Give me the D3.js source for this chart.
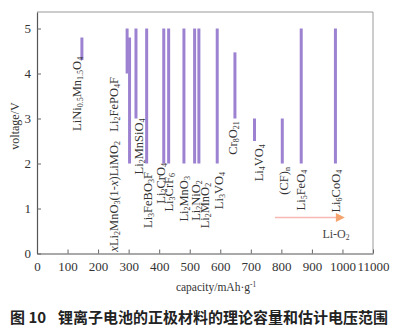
<!DOCTYPE html>
<html><head><meta charset="utf-8">
<script src="https://cdn.jsdelivr.net/npm/d3@7/dist/d3.min.js"></script>
<style>html,body{margin:0;padding:0;background:#fff;}svg{display:block;}</style>
</head><body>
<svg id="c" width="413" height="329"></svg>
<script>
// ---- data ----
const materials = ["LiNi0.5Mn1.5O4","Li2FePO4F","xLi2MnO3(1-x)LiMO2","Li2MnSiO4","Li3FeBO3F",
  "Li2CrO4","Li3CrF6","Li2MnO3","Li2NiO2","Li2MnO2","Li3VO4","Cr8O21","Li4VO4","(CF)n","Li5FeO4","Li6CoO4"];
const labelMarkup = ["LiNi_{0.5}Mn_{1.5}O_{4}","Li_{2}FePO_{4}F","*x*Li_{2}MnO_{3}(1-*x*)LiMO_{2}","Li_{2}MnSiO_{4}","Li_{3}FeBO_{3}F",
  "Li_{2}CrO_{4}","Li_{3}CrF_{6}","Li_{2}MnO_{3}","Li_{2}NiO_{2}","Li_{2}MnO_{2}","Li_{3}VO_{4}","Cr_{8}O_{21}","Li_{4}VO_{4}","(CF)_{n}","Li_{5}FeO_{4}","Li_{6}CoO_{4}"];
const capacity = [147, 295, 303, 324, 359, 415, 431, 481, 516, 530, 590, 648, 712, 803, 865, 977];
const vLow  = [4.3, 4.0, 2.0, 3.0, 2.0, 2.0, 2.0, 2.0, 2.0, 2.0, 2.0, 3.0, 2.5, 2.0, 2.0, 2.0];
const vHigh = [4.8, 5.0, 4.8, 5.0, 5.0, 5.0, 5.0, 5.0, 5.0, 5.0, 5.0, 4.47, 3.0, 3.0, 5.0, 5.0];
// label anchors (data units): capacity of label centre, voltage of label top
const labelCap = [131, 253, 253, 334, 363, 404, 432, 481, 519, 551, 594, 640, 725, 807, 864, 977];
const labelV   = [4.37, 3.92, 2.5, 3.0, 1.81, 2.01, 1.79, 1.72, 1.63, 1.57, 1.81, 2.94, 2.43, 1.92, 1.86, 1.86];
// Li-O2 range
const liO2 = {name: "Li-O_{2}", from: 779, to: 1008, v: 0.8, labelCap: 979, labelV: 0.34};
const xTicks = [0,100,200,300,400,500,600,700,800,900,1000,1100];
const xTickLabels = ["0","100","200","300","400","500","600","700","800","900","1000","11000"];
const yTicks = [0,1,2,3,4,5];
const xTitle = "capacity/mAh·g^{-1}";
const yTitle = "voltage/V";
const figNo = "图 10";
const caption = "锂离子电池的正极材料的理论容量和估计电压范围";

// ---- layout ----
const svg = d3.select("#c");
const L = 37, R = 373, T = 12, B = 253.5;
const x = d3.scaleLinear().domain([0, 1100]).range([L, R]);
const y = d3.scaleLinear().domain([0, 5.367]).range([B, T]);
const serif = "'Liberation Serif','Times New Roman',serif";
const barColor = "#9c82d1";

// frame (top/right light)
svg.append("line").attr("x1", L).attr("x2", R).attr("y1", T).attr("y2", T).attr("stroke", "#9a9a9a").attr("stroke-width", 1);
svg.append("line").attr("x1", R).attr("x2", R).attr("y1", T).attr("y2", B).attr("stroke", "#9a9a9a").attr("stroke-width", 1);

const xAxis = svg.append("g").attr("transform", `translate(0,${B})`)
  .call(d3.axisBottom(x).tickValues(xTicks).tickSizeInner(-4).tickSizeOuter(0).tickPadding(8)
    .tickFormat((d, i) => xTickLabels[i]));
const yAxis = svg.append("g").attr("transform", `translate(${L},0)`)
  .call(d3.axisLeft(y).tickValues(yTicks).tickSizeInner(-4).tickSizeOuter(0).tickPadding(6)
    .tickFormat(d3.format("d")));
[xAxis, yAxis].forEach(g => {
  g.select(".domain").attr("stroke", "#555").attr("stroke-width", 1.2);
  g.selectAll(".tick line").attr("stroke", "#666");
  g.selectAll(".tick text").attr("font-family", serif).attr("font-size", 13).attr("fill", "#333");
});

// rich text helper
function rich(textSel, str, fs) {
  const re = /(_\{[^}]*\}|\^\{[^}]*\}|\*[^*]*\*|[^_^*]+)/g;
  let m, shift = 0;
  while ((m = re.exec(str)) !== null) {
    let tok = m[1], size = fs, target = 0, italic = false, content = tok;
    if (tok.startsWith("_{")) { content = tok.slice(2, -1); size = fs * 0.64; target = fs * 0.16; }
    else if (tok.startsWith("^{")) { content = tok.slice(2, -1); size = fs * 0.64; target = -fs * 0.38; }
    else if (tok.startsWith("*")) { content = tok.slice(1, -1); italic = true; }
    const ts = textSel.append("tspan").text(content).attr("font-size", size).attr("dy", target - shift);
    if (italic) ts.attr("font-style", "italic");
    shift = target;
  }
}

// bars
svg.append("g").selectAll("line").data(materials).join("line")
  .attr("x1", (d, i) => x(capacity[i])).attr("x2", (d, i) => x(capacity[i]))
  .attr("y1", (d, i) => y(vLow[i])).attr("y2", (d, i) => y(vHigh[i]))
  .attr("stroke", barColor).attr("stroke-width", 3);

// labels
const fsL = 12.5;
materials.forEach((d, i) => {
  const g = svg.append("g").attr("transform", `translate(${x(labelCap[i])},${y(labelV[i])}) rotate(-90)`);
  const t = g.append("text").attr("text-anchor", "end").attr("y", fsL * 0.33)
    .attr("font-family", serif).attr("font-size", fsL).attr("fill", "#333");
  rich(t, labelMarkup[i], fsL);
});

// Li-O2 arrow
const ay = y(liO2.v);
svg.append("line").attr("x1", x(liO2.from)).attr("x2", x(liO2.to) - 7).attr("y1", ay).attr("y2", ay)
  .attr("stroke", "#f7b7b3").attr("stroke-width", 1.5);
svg.append("path")
  .attr("d", `M${x(liO2.to)},${ay} L${x(liO2.to) - 9},${ay - 4.5} L${x(liO2.to) - 9},${ay + 4.5} Z`)
  .attr("fill", "#f5a36f");
const lt = svg.append("text").attr("x", x(liO2.labelCap)).attr("y", y(liO2.labelV)).attr("text-anchor", "middle")
  .attr("font-family", serif).attr("font-size", 12).attr("fill", "#444");
rich(lt, liO2.name, 12);

// axis titles
svg.append("text").attr("transform", "translate(19,126) rotate(-90)").attr("text-anchor", "middle")
  .attr("font-family", serif).attr("font-size", 12).attr("fill", "#333").text(yTitle);
const xt = svg.append("text").attr("x", 216).attr("y", 291).attr("text-anchor", "middle")
  .attr("font-family", serif).attr("font-size", 11.5).attr("fill", "#333");
rich(xt, xTitle, 11.5);

// caption
svg.append("text").attr("x", 10).attr("y", 323).attr("font-family", "'Noto Sans CJK SC',sans-serif")
  .attr("font-weight", "bold").attr("font-size", 15).attr("fill", "#222").text(figNo);
svg.append("text").attr("x", 58).attr("y", 323).attr("font-family", "'Noto Sans CJK SC',sans-serif")
  .attr("font-weight", "bold").attr("font-size", 15).attr("fill", "#222").text(caption);
</script>
</body></html>
